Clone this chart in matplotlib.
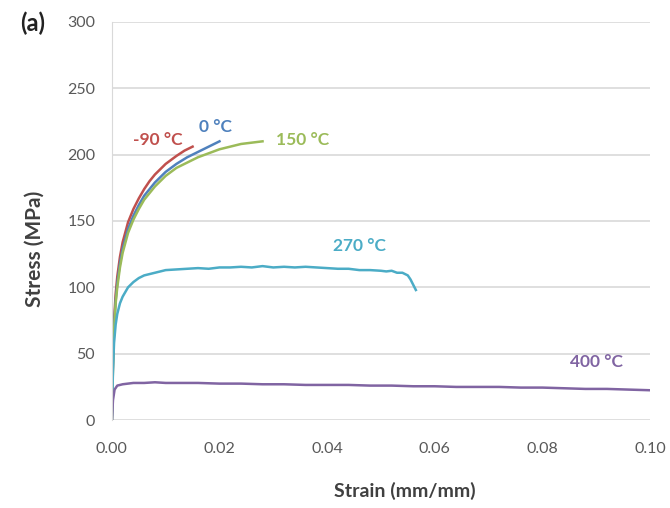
import matplotlib.pyplot as plt

plt.rcParams['font.family'] = ['Lato', 'DejaVu Sans']

# -90 °C
strain_m90 = [0, 0.0002, 0.0004, 0.0007, 0.001, 0.0015, 0.002, 0.003, 0.004, 0.005,
              0.006, 0.007, 0.008, 0.010, 0.012, 0.0135, 0.015]
stress_m90 = [0, 45, 75, 95, 108, 123, 134, 149, 159, 167, 174, 180, 185, 193, 199, 203, 206]

# 0 °C
strain_0 = [0, 0.0002, 0.0004, 0.0007, 0.001, 0.0015, 0.002, 0.003, 0.004, 0.005,
            0.006, 0.008, 0.010, 0.012, 0.014, 0.016, 0.018, 0.020]
stress_0 = [0, 42, 70, 90, 103, 118, 129, 144, 154, 162, 169, 179, 187, 193, 198, 202, 206, 210]

# 150 °C
strain_150 = [0, 0.0002, 0.0004, 0.0007, 0.001, 0.0015, 0.002, 0.003, 0.004, 0.005,
              0.006, 0.008, 0.010, 0.012, 0.014, 0.016, 0.018, 0.020, 0.022, 0.024,
              0.026, 0.028]
stress_150 = [0, 40, 68, 88, 100, 115, 126, 141, 151, 159, 166, 176, 184, 190, 194,
              198, 201, 204, 206, 208, 209, 210]

# 270 °C
strain_270 = [0, 0.0002, 0.0004, 0.0007, 0.001, 0.0015, 0.002, 0.003, 0.004, 0.005,
              0.006, 0.007, 0.008, 0.009, 0.010, 0.012, 0.014, 0.016, 0.018, 0.020,
              0.022, 0.024, 0.026, 0.028, 0.030, 0.032, 0.034, 0.036, 0.038, 0.040,
              0.042, 0.044, 0.046, 0.048, 0.050, 0.051, 0.052, 0.053, 0.054, 0.055,
              0.0555, 0.056, 0.0565]
stress_270 = [0, 38, 58, 72, 80, 88, 93, 100, 104, 107, 109, 110, 111, 112, 113, 113.5,
              114, 114.5, 114, 115, 115, 115.5, 115, 116, 115, 115.5, 115, 115.5, 115,
              114.5, 114, 114, 113, 113, 112.5, 112, 112.5, 111, 111, 109, 106, 102, 98]

# 400 °C
strain_400 = [0, 0.0002, 0.0005, 0.001, 0.002, 0.004, 0.006, 0.008, 0.010, 0.013,
              0.016, 0.020, 0.024, 0.028, 0.032, 0.036, 0.040, 0.044, 0.048, 0.052,
              0.056, 0.060, 0.064, 0.068, 0.072, 0.076, 0.080, 0.084, 0.088, 0.092,
              0.096, 0.100]
stress_400 = [0, 15, 23, 26, 27, 28, 28, 28.5, 28, 28, 28, 27.5, 27.5, 27, 27, 26.5, 26.5,
              26.5, 26, 26, 25.5, 25.5, 25, 25, 25, 24.5, 24.5, 24, 23.5, 23.5, 23, 22.5]

curves = [
    (strain_m90, stress_m90, '#C0504D', '-90 °C', 0.0085, 211),
    (strain_0, stress_0, '#4F81BD', '0 °C', 0.0192, 221),
    (strain_150, stress_150, '#9BBB59', '150 °C', 0.0355, 211),
    (strain_270, stress_270, '#4BACC6', '270 °C', 0.0460, 131),
    (strain_400, stress_400, '#8064A2', '400 °C', 0.0900, 44),
]

fig = plt.figure(figsize=(6.7, 5.08), dpi=100)
ax = fig.add_axes([0.167, 0.173, 0.803, 0.784])

for x, y, c, lab, lx, ly in curves:
    ax.plot(x, y, color=c, lw=1.8)
    ax.text(lx, ly, lab, color=c, fontsize=12.5, fontweight='bold',
            ha='center', va='center')

ax.set_xlim(0, 0.10)
ax.set_ylim(0, 300)
ax.set_xticks([0, 0.02, 0.04, 0.06, 0.08, 0.10])
ax.set_xticklabels(['0.00', '0.02', '0.04', '0.06', '0.08', '0.10'])
ax.set_yticks(range(0, 301, 50))
ax.yaxis.grid(True, color='#D9D9D9', lw=1.2)
ax.set_axisbelow(True)
for s in ['top', 'right', 'bottom']:
    ax.spines[s].set_visible(False)
ax.spines['left'].set_color('#D9D9D9')
ax.tick_params(length=0, labelsize=11.5, colors='#595959', pad=12)
ax.tick_params(axis='x', pad=16)

ax.set_xlabel('Strain (mm/mm)', fontsize=14, fontweight='bold', color='#404040')
ax.set_ylabel('Stress (MPa)', fontsize=15, fontweight='bold', color='#404040')
ax.xaxis.set_label_coords(0.545, -0.155)
ax.yaxis.set_label_coords(-0.125, 0.43)

fig.text(0.048, 0.955, '(a)', fontsize=17, fontweight='bold', color='#222222',
         ha='center', va='center')

fig.savefig('out.png', dpi=100)
